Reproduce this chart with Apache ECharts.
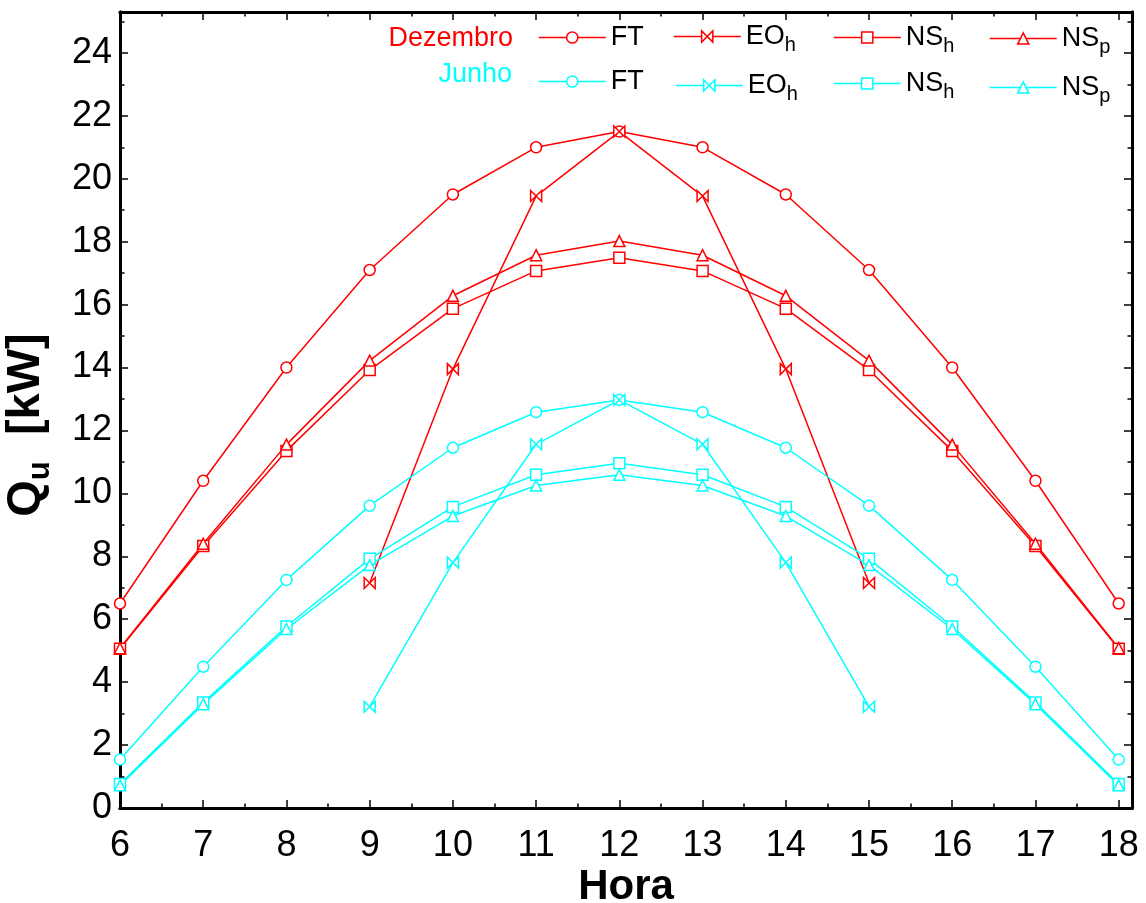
<!DOCTYPE html>
<html>
<head>
<meta charset="utf-8">
<script src="https://cdn.jsdelivr.net/npm/echarts@6/dist/echarts.min.js"></script>
<style>
  html, body { margin: 0; padding: 0; background: #fff; }
  #chart { width: 1146px; height: 903px; }
</style>
</head>
<body>
<div id="chart"></div>
<script>
// Useful heat gain per hour of day, December (red) and June (cyan)
const hours = [6, 7, 8, 9, 10, 11, 12, 13, 14, 15, 16, 17, 18];
const hoursEO = [9, 10, 11, 12, 13, 14, 15];

const dezFT  = [6.5, 10.4, 14.0, 17.1, 19.5, 21.0, 21.5, 21.0, 19.5, 17.1, 14.0, 10.4, 6.5];
const dezEOh = [7.15, 13.95, 19.45, 21.5, 19.45, 13.95, 7.15];
const dezNSh = [5.06, 8.33, 11.35, 13.92, 15.87, 17.07, 17.49, 17.07, 15.87, 13.92, 11.35, 8.33, 5.06];
const dezNSp = [5.08, 8.4, 11.55, 14.22, 16.28, 17.57, 18.02, 17.57, 16.28, 14.22, 11.55, 8.4, 5.08];

const junFT  = [1.54, 4.49, 7.25, 9.61, 11.45, 12.58, 12.97, 12.58, 11.45, 9.61, 7.25, 4.49, 1.54];
const junEOh = [3.22, 7.8, 11.56, 12.97, 11.56, 7.8, 3.22];
const junNSh = [0.76, 3.35, 5.77, 7.92, 9.57, 10.59, 10.96, 10.59, 9.57, 7.92, 5.77, 3.35, 0.76];
const junNSp = [0.72, 3.3, 5.69, 7.72, 9.28, 10.25, 10.59, 10.25, 9.28, 7.72, 5.69, 3.3, 0.72];

const xTicks = [6, 7, 8, 9, 10, 11, 12, 13, 14, 15, 16, 17, 18];
const yTicks = [0, 2, 4, 6, 8, 10, 12, 14, 16, 18, 20, 22, 24];

const RED = '#ff0000';
const CYAN = '#00ffff';
const FONT = '"Liberation Sans", Arial, Helvetica, sans-serif';

const bowtie = 'path://M0,0L5,5L0,10ZM10,0L5,5L10,10Z';

function pairs(xs, ys) { return xs.map((x, i) => [x, ys[i]]); }

function lineSeries(name, color, symbol, xs, ys) {
  return {
    name: name,
    type: 'line',
    xAxisIndex: 0,
    yAxisIndex: 0,
    data: pairs(xs, ys),
    symbol: symbol,
    symbolSize: 11,
    showAllSymbol: true,
    lineStyle: { color: color, width: 1.5 },
    itemStyle: { color: '#ffffff', borderColor: color, borderWidth: 1.5 },
    emphasis: { disabled: true },
    animation: false
  };
}

const series = [
  lineSeries('dez-FT', RED, 'circle', hours, dezFT),
  lineSeries('dez-EOh', RED, bowtie, hoursEO, dezEOh),
  lineSeries('dez-NSh', RED, 'rect', hours, dezNSh),
  lineSeries('dez-NSp', RED, 'triangle', hours, dezNSp),
  lineSeries('jun-FT', CYAN, 'circle', hours, junFT),
  lineSeries('jun-EOh', CYAN, bowtie, hoursEO, junEOh),
  lineSeries('jun-NSh', CYAN, 'rect', hours, junNSh),
  lineSeries('jun-NSp', CYAN, 'triangle', hours, junNSp)
];

// legend labels with subscripts
const legendLabels = {
  'dez-FT': '{n|FT}', 'jun-FT': '{n|FT}',
  'dez-EOh': '{n|EO}{s|h}', 'jun-EOh': '{n|EO}{s|h}',
  'dez-NSh': '{n|NS}{s|h}', 'jun-NSh': '{n|NS}{s|h}',
  'dez-NSp': '{n|NS}{s|p}', 'jun-NSp': '{n|NS}{s|p}'
};

function legendItem(name, left, centerY) {
  return {
    data: [name],
    left: left,
    top: centerY - 15,
    orient: 'horizontal',
    padding: 0,
    itemWidth: 67,
    itemHeight: 14,
    selectedMode: false,
    itemStyle: { borderWidth: 1.5 },
    lineStyle: { width: 1.5 },
    formatter: () => legendLabels[name],
    textStyle: {
      color: '#000',
      fontFamily: FONT,
      rich: {
        n: { fontSize: 27, lineHeight: 27, verticalAlign: 'top', fontFamily: FONT, color: '#000' },
        s: { fontSize: 20, lineHeight: 20, padding: [12, 0, 0, 0], verticalAlign: 'top', fontFamily: FONT, color: '#000' }
      }
    }
  };
}

const legends = [
  legendItem('dez-FT', 538, 39),
  legendItem('dez-EOh', 673, 38),
  legendItem('dez-NSh', 833, 39),
  legendItem('dez-NSp', 989, 40),
  legendItem('jun-FT', 538, 83),
  legendItem('jun-EOh', 675, 87),
  legendItem('jun-NSh', 833, 85),
  legendItem('jun-NSp', 989, 89)
];

// both grids share the same fixed rectangle (no automatic shrinking for labels)
const GRID = { left: 120, right: 14, top: 12, bottom: 95, containLabel: false, outerBoundsMode: 'none' };
const axisLine = { show: true, onZero: false, lineStyle: { color: '#000', width: 3 } };
const majorTick = { show: true, inside: true, length: 8, lineStyle: { color: '#000', width: 1.5 } };
const minorTickAxis = { show: true, inside: true, length: 4.5, lineStyle: { color: '#000', width: 1.5 } };

function xAxisDef(grid, position, interval, opts) {
  return Object.assign({
    type: 'value', gridIndex: grid, position: position,
    min: 6, max: 18.16, interval: interval,
    axisLine: axisLine, splitLine: { show: false },
    axisTick: majorTick, axisLabel: { show: false }
  }, opts || {});
}
function yAxisDef(grid, position, interval, opts) {
  return Object.assign({
    type: 'value', gridIndex: grid, position: position,
    min: 0, max: 25.3, interval: interval,
    axisLine: axisLine, splitLine: { show: false },
    axisTick: majorTick, axisLabel: { show: false }
  }, opts || {});
}

const option = {
  backgroundColor: '#ffffff',
  animation: false,
  grid: [Object.assign({}, GRID), Object.assign({}, GRID)],
  xAxis: [
    xAxisDef(0, 'bottom', 1, {
      axisLabel: {
        show: true, fontSize: 36, color: '#000', fontFamily: FONT, margin: 20,
        formatter: v => (xTicks.indexOf(v) >= 0 ? String(v) : '')
      },
      name: 'Hora', nameLocation: 'middle', nameGap: 58, nameMoveOverlap: false,
      nameTextStyle: { fontSize: 42, fontWeight: 'bold', color: '#000', fontFamily: FONT }
    }),
    xAxisDef(0, 'top', 1),
    xAxisDef(1, 'bottom', 0.5, { axisTick: minorTickAxis }),
    xAxisDef(1, 'top', 0.5, { axisTick: minorTickAxis })
  ],
  yAxis: [
    yAxisDef(0, 'left', 2, {
      axisLabel: {
        show: true, fontSize: 36, color: '#000', fontFamily: FONT, margin: 8,
        formatter: v => (yTicks.indexOf(v) >= 0 ? String(v) : '')
      },
      name: '{q|Q}{s|u}{q|  [kW]}', nameLocation: 'middle', nameGap: 70, nameRotate: 90,
      nameTextStyle: {
        color: '#000', fontFamily: FONT, padding: [0, 30, 0, 0],
        rich: {
          q: { fontSize: 47, lineHeight: 47, fontWeight: 'bold', verticalAlign: 'top', fontFamily: FONT, color: '#000' },
          s: { fontSize: 31, lineHeight: 31, fontWeight: 'bold', padding: [22, 0, 0, 0], verticalAlign: 'top', fontFamily: FONT, color: '#000' }
        }
      }
    }),
    yAxisDef(0, 'right', 2),
    yAxisDef(1, 'left', 1, { axisTick: minorTickAxis }),
    yAxisDef(1, 'right', 1, { axisTick: minorTickAxis })
  ],
  legend: legends,
  graphic: [
    { type: 'text', x: 513, y: 39, style: { text: 'Dezembro', fill: RED, font: '27px ' + FONT, align: 'right', verticalAlign: 'middle' } },
    { type: 'text', x: 512, y: 75, style: { text: 'Junho', fill: CYAN, font: '27px ' + FONT, align: 'right', verticalAlign: 'middle' } }
  ],
  series: series
};

const chart = echarts.init(document.getElementById('chart'), null, { renderer: 'canvas' });
chart.setOption(option);
</script>
</body>
</html>
